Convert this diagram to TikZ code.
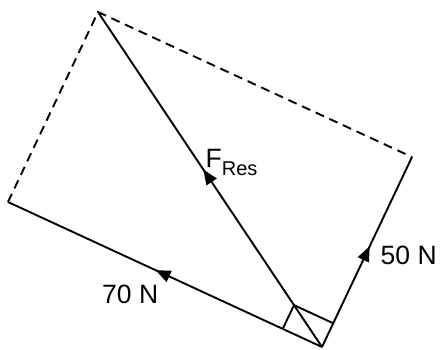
\documentclass[tikz,border=0pt]{standalone}
\usepackage{fontspec}
\setmainfont{Liberation Sans}
\usetikzlibrary{arrows.meta,decorations.markings,calc}
\begin{document}
\begin{tikzpicture}[x=1pt,y=-1pt,
  vec/.style={line width=1.9pt,
    postaction={decorate,decoration={markings,
      mark=at position 0.53 with {\arrow{Triangle[length=15pt,width=12pt]}}}}},
  dashline/.style={line width=1.9pt,dash pattern=on 9pt off 6pt},
  thin/.style={line width=1.9pt},
  lbl/.style={inner sep=0pt,anchor=base west,font=\fontsize{26.5}{26.5}\selectfont}]
\useasboundingbox (0,0) rectangle (442,349);
\coordinate (V) at (322,347);
\coordinate (L) at (8,202);
\coordinate (R) at (412,157);
\coordinate (T) at (98,12);
\coordinate (A) at ($(V)!0.125!(L)$);
\coordinate (B) at ($(V)!0.125!(R)$);
\coordinate (C) at ($(V)!0.125!(T)$);
\draw[vec] (V) -- (L);
\draw[vec] (V) -- (R);
\draw[vec] (V) -- (T);
\draw[dashline] (L) -- (T) -- (R);
\draw[thin] (A) -- (C) -- (B);
\node[lbl] (l70) at (102,303.5) {70 N};
\node[lbl] (l50) at (380.5,264.5) {50 N};
\node[lbl] (lF) at (205.5,167) {F\raisebox{-8pt}{\fontsize{20}{20}\selectfont Res}};
\end{tikzpicture}
\end{document}
